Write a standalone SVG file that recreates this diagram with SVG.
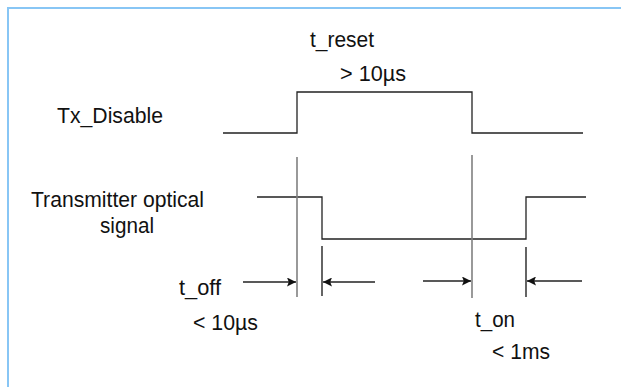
<svg xmlns="http://www.w3.org/2000/svg" width="621" height="387" viewBox="0 0 621 387">
<style>
.lbl{font-family:"Liberation Sans",Arial,sans-serif;font-size:22px;fill:#111}
.sig{fill:none;stroke:#222;stroke-width:1.3}
.mark{fill:none;stroke:#808080;stroke-width:1.6}
.tick{fill:none;stroke:#111;stroke-width:1.3}
.arr{fill:none;stroke:#222;stroke-width:1.3;marker-end:url(#ah)}
</style>
<defs>
<marker id="ah" viewBox="0 0 10 10" refX="10" refY="5" markerWidth="9" markerHeight="9" markerUnits="userSpaceOnUse" orient="auto">
<path d="M0,0 L10,5 L0,10 L2,5 Z" fill="#111"/>
</marker>
</defs>
<rect x="8" y="8" width="700" height="500" fill="#fff" stroke="#88c6f5" stroke-width="2"/>
<g id="label-tx-disable"><text class="lbl" x="57" y="123" textLength="106" lengthAdjust="spacingAndGlyphs">Tx_Disable</text></g>
<g id="label-optical"><text class="lbl" x="31" y="207" textLength="173" lengthAdjust="spacingAndGlyphs">Transmitter optical</text><text class="lbl" x="100" y="233" textLength="54" lengthAdjust="spacingAndGlyphs">signal</text></g>
<g id="label-treset"><text class="lbl" x="310" y="47" textLength="64" lengthAdjust="spacingAndGlyphs">t_reset</text><text class="lbl" x="340" y="81" textLength="66" lengthAdjust="spacingAndGlyphs">&gt; 10µs</text></g>
<g id="label-toff"><text class="lbl" x="179" y="295" textLength="42" lengthAdjust="spacingAndGlyphs">t_off</text><text class="lbl" x="193" y="330" textLength="65" lengthAdjust="spacingAndGlyphs">&lt; 10µs</text></g>
<g id="label-ton"><text class="lbl" x="475" y="327" textLength="40" lengthAdjust="spacingAndGlyphs">t_on</text><text class="lbl" x="492" y="359" textLength="58" lengthAdjust="spacingAndGlyphs">&lt; 1ms</text></g>
<g id="signal-tx-disable"><path class="sig" d="M223,133 H297 V92 H472 V133 H583"/></g>
<g id="signal-optical"><path class="sig" d="M257,197 H322 V239 H526 V197 H586"/></g>
<g id="connectors">
<path class="mark" d="M297,157 V297"/>
<path class="mark" d="M472,155 V298"/>
<path class="tick" d="M322,246 V296"/>
<path class="tick" d="M526,247 V297"/>
<path class="arr" d="M243,282 H296"/>
<path class="arr" d="M375,282 H323"/>
<path class="arr" d="M423,281 H471"/>
<path class="arr" d="M582,281 H527"/>
</g>
</svg>
